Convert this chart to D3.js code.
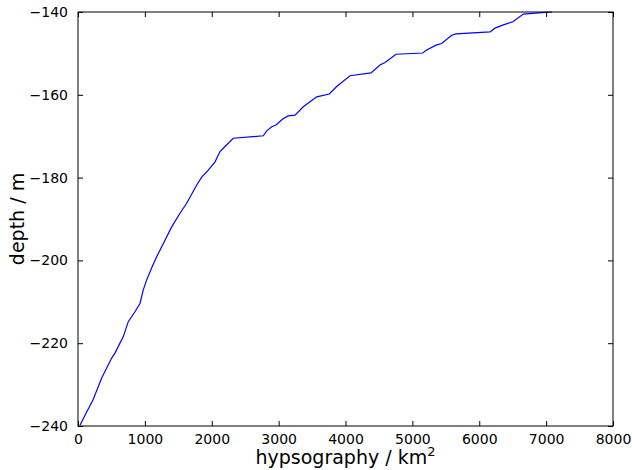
<!DOCTYPE html>
<html>
<head>
<meta charset="utf-8">
<script src="https://cdn.jsdelivr.net/npm/d3@7"></script>
<style>
  body { margin: 0; background: white; }
  svg { display: block; font-family: "DejaVu Sans", sans-serif; }
</style>
</head>
<body>
<svg></svg>
<script>
// hypsography curve
let area = [30, 120, 224, 354, 504, 553, 677, 752, 852, 927, 976, 1027, 1102, 1177, 1276, 1401,
  1525, 1625, 1775, 1850, 1948, 2049, 2123, 2198, 2322, 2771, 2822, 2896, 2961, 3065, 3145,
  3245, 3369, 3569, 3758, 3868, 4067, 4381, 4516, 4591, 4755, 5154, 5214, 5353, 5438, 5588,
  5652, 6161, 6235, 6360, 6509, 6659, 6983, 7088]
let depth = [-239.8, -236.9, -233.7, -228.4, -223.6, -222.4, -218.4, -214.8, -212.4, -210.4,
  -207.1, -204.7, -201.8, -199.1, -195.9, -191.9, -188.6, -186.2, -181.8, -179.9, -178.2,
  -176.2, -173.7, -172.5, -170.5, -169.9, -168.7, -167.7, -167.3, -165.8, -165.1, -164.9,
  -162.9, -160.5, -159.8, -158.0, -155.4, -154.7, -152.8, -152.2, -150.2, -149.9, -149.2,
  -148.0, -147.6, -145.6, -145.3, -144.8, -143.9, -143.1, -142.3, -140.5, -140.1, -140.0]

let xTicks = [0, 1000, 2000, 3000, 4000, 5000, 6000, 7000, 8000]
let yTicks = [-240, -220, -200, -180, -160, -140]

let w = 632
let h = 470
let padLeft = 78
let padRight = 613
let padTop = 12
let padBottom = 426
let tickLen = 5

let svg = d3.select("svg")
  .attr("width", w)
  .attr("height", h)

let xScale = d3.scaleLinear()
  .domain([0, 8000])
  .range([padLeft, padRight])

let yScale = d3.scaleLinear()
  .domain([-240, -140])
  .range([padBottom, padTop])

let points = area.map((a, i) => [a, depth[i]])

let line = d3.line()
  .x((d) => xScale(d[0]))
  .y((d) => yScale(d[1]))

svg.append("path")
  .datum(points)
  .attr("d", line)
  .attr("fill", "none")
  .attr("stroke", "#0000ff")
  .attr("stroke-width", 1.2)

// ticks pointing inward on all four sides, like classic matplotlib
let styleAxis = (g) => {
  g.select(".domain").remove()
  g.selectAll(".tick line").attr("stroke", "black").attr("stroke-width", 1)
}

svg.append("g")
  .attr("transform", "translate(0," + padBottom + ")")
  .call(d3.axisBottom(xScale).tickValues(xTicks).tickSizeInner(-tickLen).tickSizeOuter(0).tickPadding(8).tickFormat(d3.format("d")))
  .call(styleAxis)
  .selectAll("text").attr("font-size", 14).attr("fill", "black").attr("font-family", "DejaVu Sans")

svg.append("g")
  .attr("transform", "translate(0," + padTop + ")")
  .call(d3.axisTop(xScale).tickValues(xTicks).tickSizeInner(-tickLen).tickSizeOuter(0).tickFormat(""))
  .call(styleAxis)

svg.append("g")
  .attr("transform", "translate(" + padLeft + ",0)")
  .call(d3.axisLeft(yScale).tickValues(yTicks).tickSizeInner(-tickLen).tickSizeOuter(0).tickPadding(10).tickFormat(d3.format("d")))
  .call(styleAxis)
  .selectAll("text").attr("font-size", 14).attr("fill", "black").attr("font-family", "DejaVu Sans")

svg.append("g")
  .attr("transform", "translate(" + padRight + ",0)")
  .call(d3.axisRight(yScale).tickValues(yTicks).tickSizeInner(-tickLen).tickSizeOuter(0).tickFormat(""))
  .call(styleAxis)

svg.append("rect")
  .attr("x", padLeft)
  .attr("y", padTop)
  .attr("width", padRight - padLeft)
  .attr("height", padBottom - padTop)
  .attr("fill", "none")
  .attr("stroke", "black")
  .attr("stroke-width", 1)

let xLabel = svg.append("text")
  .attr("x", (padLeft + padRight) / 2)
  .attr("y", 464)
  .attr("text-anchor", "middle")
  .attr("font-size", 19)
  .text("hypsography / km")
xLabel.append("tspan")
  .attr("font-size", 13)
  .attr("dy", -8)
  .text("2")

svg.append("text")
  .attr("transform", "translate(24," + (padTop + padBottom) / 2 + ") rotate(-90)")
  .attr("text-anchor", "middle")
  .attr("font-size", 19)
  .text("depth / m")
</script>
</body>
</html>
